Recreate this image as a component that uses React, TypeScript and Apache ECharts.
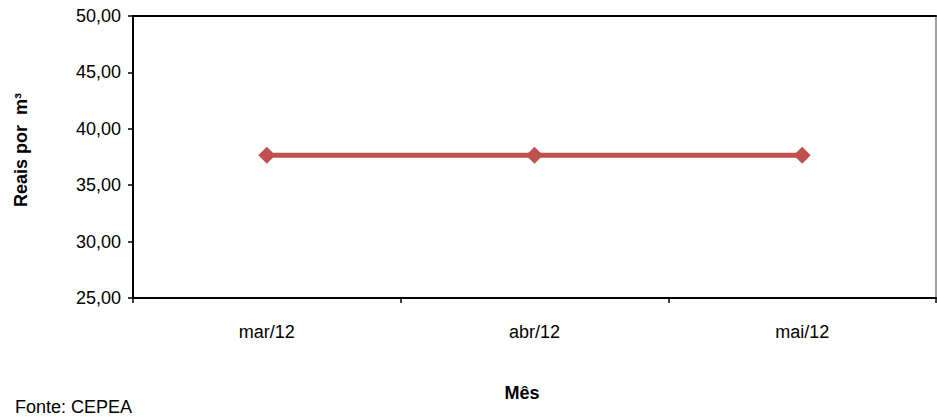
import React, { useEffect, useRef } from "react";
import * as echarts from "echarts";

const categories = ["mar/12", "abr/12", "mai/12"];
const prices = [37.66, 37.66, 37.66];
const yMin = 25;
const yMax = 50;
const yStep = 5;
const yTitle = "Reais por  m³";
const xTitle = "Mês";
const sourceNote = "Fonte: CEPEA";

export default function App() {
  const ref = useRef<HTMLDivElement>(null);
  useEffect(() => {
    const chart = echarts.init(ref.current!, null, { renderer: "svg" });
    const font = "'Liberation Sans', Arial, sans-serif";
    chart.setOption({
      animation: false,
      backgroundColor: "#ffffff",
      textStyle: { fontFamily: font },
      grid: { left: 133, right: 1, top: 16, bottom: 119, containLabel: false },
      xAxis: [
        {
          type: "category",
          data: categories,
          boundaryGap: true,
          position: "bottom",
          axisLine: { show: true, lineStyle: { color: "#000", width: 2 } },
          axisTick: { show: true, inside: false, length: 5, lineStyle: { color: "#000", width: 1.5 } },
          axisLabel: { color: "#000", fontSize: 18, fontFamily: font, margin: 25 },
          splitLine: { show: false },
        },
        {
          type: "category",
          data: categories,
          position: "top",
          axisLine: { show: true, lineStyle: { color: "#000", width: 2 } },
          axisTick: { show: false },
          axisLabel: { show: false },
          splitLine: { show: false },
        },
      ],
      yAxis: [
        {
          type: "value",
          min: yMin,
          max: yMax,
          interval: yStep,
          position: "left",
          axisLine: { show: true, lineStyle: { color: "#000", width: 2 } },
          axisTick: { show: true, inside: false, length: 5, lineStyle: { color: "#000", width: 1.5 } },
          axisLabel: {
            color: "#000",
            fontSize: 18,
            fontFamily: font,
            margin: 12,
            formatter: (v: number) => v.toFixed(2).replace(".", ","),
          },
          splitLine: { show: false },
        },
        {
          type: "value",
          min: yMin,
          max: yMax,
          interval: yStep,
          position: "right",
          axisLine: { show: true, lineStyle: { color: "#808080", width: 1.5 } },
          axisTick: { show: false },
          axisLabel: { show: false },
          splitLine: { show: false },
        },
      ],
      series: [
        {
          type: "line",
          data: prices,
          xAxisIndex: 0,
          yAxisIndex: 0,
          symbol: "diamond",
          symbolSize: 17,
          lineStyle: { color: "#C0504D", width: 5 },
          itemStyle: { color: "#C0504D" },
        },
      ],
      graphic: [
        {
          type: "text",
          x: 21,
          y: 150,
          rotation: Math.PI / 2,
          style: {
            text: yTitle,
            fill: "#000",
            font: `bold 18px ${font}`,
            align: "center",
            verticalAlign: "middle",
          },
        },
        {
          type: "text",
          x: 522,
          y: 393,
          style: {
            text: xTitle,
            fill: "#000",
            font: `bold 18px ${font}`,
            align: "center",
            verticalAlign: "middle",
          },
        },
        {
          type: "text",
          x: 15,
          y: 407,
          style: {
            text: sourceNote,
            fill: "#000",
            font: `18px ${font}`,
            align: "left",
            verticalAlign: "middle",
          },
        },
      ],
    });
    return () => chart.dispose();
  }, []);
  return <div ref={ref} style={{ width: 937, height: 417, position: "absolute", left: 0, top: 0 }} />;
}
